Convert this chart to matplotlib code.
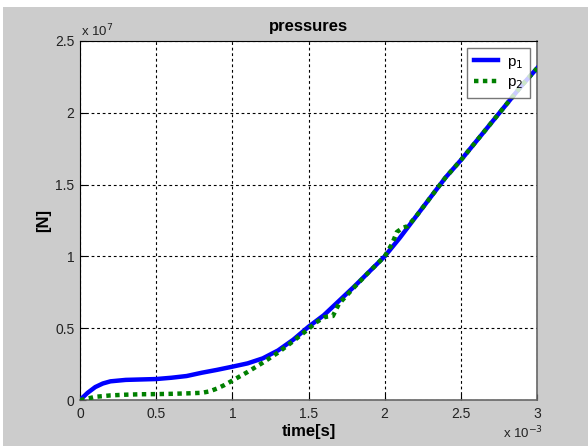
import matplotlib.pyplot as plt
from matplotlib.patches import Rectangle

# time in units of 1e-3 s, pressure in units of 1e7 N
t1 = [0, 0.05, 0.1, 0.15, 0.2, 0.3, 0.4, 0.5, 0.6, 0.7, 0.8, 0.9, 1.0, 1.1, 1.2,
      1.3, 1.4, 1.5, 1.6, 1.7, 1.8, 1.9, 2.0, 2.1, 2.2, 2.3, 2.4, 2.5, 2.6, 2.7,
      2.8, 2.9, 3.0]
p1 = [0, 0.05, 0.09, 0.115, 0.13, 0.14, 0.143, 0.146, 0.155, 0.167, 0.19, 0.21,
      0.232, 0.255, 0.29, 0.345, 0.42, 0.51, 0.59, 0.69, 0.79, 0.895, 1.0, 1.13,
      1.27, 1.41, 1.55, 1.67, 1.80, 1.93, 2.06, 2.19, 2.31]

t2 = [0, 0.05, 0.1, 0.2, 0.3, 0.4, 0.5, 0.6, 0.7, 0.8, 0.85, 0.9, 0.95, 1.0, 1.1,
      1.2, 1.3, 1.4, 1.5, 1.55, 1.6, 1.62, 1.66, 1.7, 1.8, 1.9, 2.0, 2.05, 2.08,
      2.12, 2.15, 2.2, 2.3, 2.4, 2.5, 2.6, 2.7, 2.8, 2.9, 3.0]
p2 = [0, 0.01, 0.022, 0.032, 0.037, 0.04, 0.041, 0.043, 0.046, 0.05, 0.06, 0.08,
      0.105, 0.135, 0.195, 0.26, 0.33, 0.41, 0.495, 0.54, 0.575, 0.58, 0.585,
      0.67, 0.785, 0.895, 1.0, 1.09, 1.17, 1.2, 1.21, 1.27, 1.41, 1.55, 1.67,
      1.80, 1.93, 2.06, 2.19, 2.31]

xticks = [0, 0.5, 1, 1.5, 2, 2.5, 3]
yticks = [0, 0.5, 1, 1.5, 2, 2.5]
xtick_labels = ['0', '0.5', '1', '1.5', '2', '2.5', '3']
ytick_labels = ['0', '0.5', '1', '1.5', '2', '2.5']

plt.rcParams['font.family'] = ['Liberation Sans', 'DejaVu Sans']

fig = plt.figure(figsize=(5.88, 4.46), dpi=100, facecolor='white')
fig.patches.append(Rectangle((3 / 588, 0), 1, (446 - 7) / 446, transform=fig.transFigure,
                             facecolor='#cccccc', edgecolor='none', zorder=-10))
ax = fig.add_axes([80 / 588, 46 / 446, 457 / 588, 359 / 446])

ax.plot(t1, p1, color='#0000ff', lw=3.2, label='p$_1$', zorder=3)
ax.plot(t2, p2, color='#008000', lw=3.2, linestyle=(0, (1, 1)), label='p$_2$', zorder=4)

ax.set_xlim(0, 3)
ax.set_ylim(0, 2.5)
ax.set_xticks(xticks)
ax.set_xticklabels(xtick_labels)
ax.set_yticks(yticks)
ax.set_yticklabels(ytick_labels)
ax.tick_params(direction='in', length=4, labelsize=10, colors='black',
               labelcolor='#222222')
ax.tick_params(axis='y', pad=4)
ax.tick_params(axis='x', pad=5)
ax.grid(True, color='black', linestyle=(0, (2.5, 2.5)), lw=0.8)

for s in ['left', 'top']:
    ax.spines[s].set_color('black')
for s in ['right', 'bottom']:
    ax.spines[s].set_color('#666666')
    ax.spines[s].set_linewidth(1.2)

ax.set_title('pressures', fontsize=12, fontweight='bold', pad=7)
ax.set_xlabel('time[s]', fontsize=12, fontweight='bold', labelpad=2)
ax.set_ylabel('[N]', fontsize=12, fontweight='bold', labelpad=3)

ax.text(0.002, 1.004, 'x 10$^{7}$', transform=ax.transAxes, fontsize=9.5,
        ha='left', va='bottom', color='#222222')
ax.text(0.926, -0.07, 'x 10$^{-3}$', transform=ax.transAxes, fontsize=9.5,
        ha='left', va='top', color='#222222')

leg = ax.legend(loc='upper right', fontsize=11, handlelength=1.55, fancybox=False,
                borderaxespad=0.45, handletextpad=0.6, labelspacing=0.3,
                borderpad=0.45)
leg.get_frame().set_edgecolor('#555555')
leg.get_frame().set_linewidth(1)

plt.savefig('out.png', dpi=100, facecolor=fig.get_facecolor())
